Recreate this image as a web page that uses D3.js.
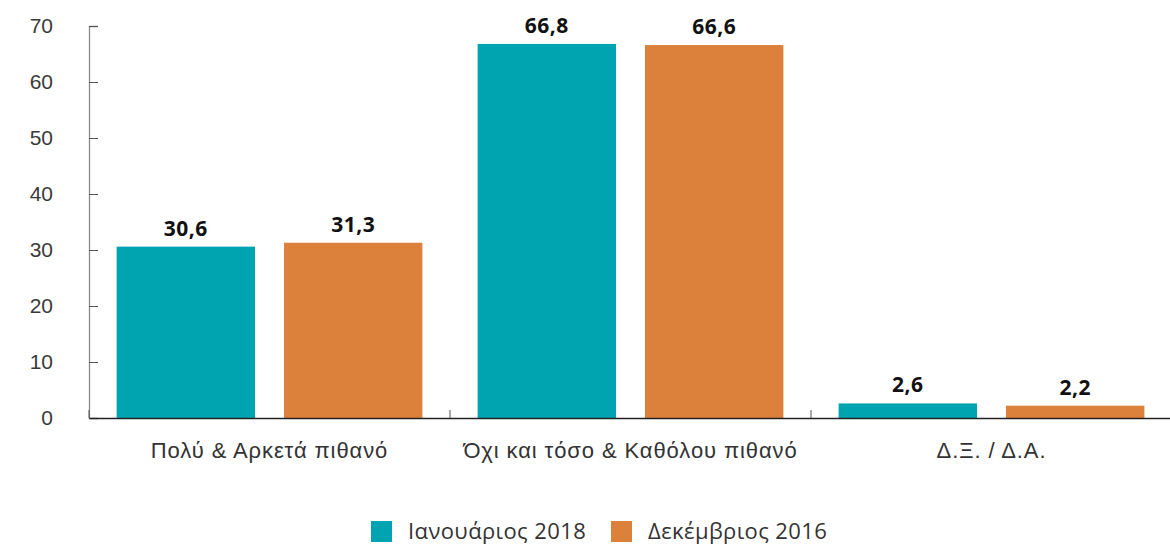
<!DOCTYPE html>
<html>
<head>
<meta charset="utf-8">
<script src="https://cdn.jsdelivr.net/npm/d3@7"></script>
<style>
  html, body { margin: 0; padding: 0; background: #fff; }
  svg { display: block; font-family: "Open Sans", "Noto Sans", sans-serif; }
</style>
</head>
<body>
<svg id="chart" width="1170" height="549"></svg>
<script>
// Survey answers by category, two waves
const categories = ["Πολύ & Αρκετά πιθανό", "Όχι και τόσο & Καθόλου πιθανό", "Δ.Ξ. / Δ.Α."];
const seriesNames = ["Ιανουάριος 2018", "Δεκέμβριος 2016"];
const jan2018 = [30.6, 66.8, 2.6];
const dec2016 = [31.3, 66.6, 2.2];
const yTicks = [0, 10, 20, 30, 40, 50, 60, 70];
const colors = ["#00A4B1", "#DC813B"];

const seriesValues = [jan2018, dec2016];
const svg = d3.select("#chart");

const margin = { left: 89, right: -2, top: 26, bottom: 131 };
const width = 1170 - margin.left - margin.right;
const height = 549 - margin.top - margin.bottom;

const g = svg.append("g").attr("transform", `translate(${margin.left},${margin.top})`);

const x0 = d3.scaleBand().domain(categories).range([0, width]).padding(0);
const x1 = d3.scaleBand().domain(seriesNames).range([0, x0.bandwidth()])
  .paddingInner(0.173).paddingOuter(0.165);
const y = d3.scaleLinear().domain([0, 70]).range([height, 0]);

// y axis: ticks pointing into the plot
const yAxis = g.append("g")
  .call(d3.axisLeft(y).tickValues(yTicks).tickSize(-9).tickPadding(36).tickFormat(d3.format("d")));
yAxis.select(".domain").attr("stroke", "#8a8a8a").attr("stroke-width", 1.3);
yAxis.selectAll(".tick line").attr("stroke", "#555").attr("stroke-width", 1);
yAxis.selectAll(".tick text").attr("fill", "#3a3a3a").attr("font-size", 21).attr("text-anchor", "end");

// bars
const groups = g.selectAll(".cat").data(categories).join("g")
  .attr("class", "cat")
  .attr("transform", d => `translate(${x0(d)},0)`);

groups.each(function(cat, ci) {
  const grp = d3.select(this);
  const data = seriesNames.map((s, si) => ({ s, si, v: seriesValues[si][ci] }));
  grp.selectAll("rect").data(data).join("rect")
    .attr("x", d => x1(d.s))
    .attr("y", d => y(d.v))
    .attr("width", x1.bandwidth())
    .attr("height", d => height - y(d.v))
    .attr("fill", d => colors[d.si]);
  grp.selectAll("text.val").data(data).join("text")
    .attr("class", "val")
    .attr("x", d => x1(d.s) + x1.bandwidth() / 2)
    .attr("y", d => y(d.v) - 11)
    .attr("text-anchor", "middle")
    .attr("font-size", 21)
    .attr("font-weight", "bold")
    .attr("letter-spacing", 0.5)
    .attr("fill", "#111")
    .text(d => d3.format(".1f")(d.v).replace(".", ","));
});

// x axis with separators between categories
const xAxis = g.append("g").attr("transform", `translate(0,${height})`)
  .call(d3.axisBottom(x0).tickSize(0).tickPadding(24));
xAxis.select(".domain").attr("stroke", "#222").attr("stroke-width", 1.3);
xAxis.selectAll(".tick text").attr("fill", "#333").attr("font-size", 22).attr("letter-spacing", 0.9);
xAxis.selectAll(".sep").data(categories.slice(1)).join("line")
  .attr("class", "sep")
  .attr("x1", d => x0(d)).attr("x2", d => x0(d))
  .attr("y1", 0).attr("y2", -8)
  .attr("stroke", "#555").attr("stroke-width", 1);
xAxis.append("line").attr("x1", 0).attr("x2", 0).attr("y1", 0).attr("y2", -8)
  .attr("stroke", "#555").attr("stroke-width", 1);

// legend
const legend = svg.append("g").attr("transform", "translate(371,521)");
const legendOffsets = [0, 240];
const items = legend.selectAll("g").data(seriesNames).join("g")
  .attr("transform", (d, i) => `translate(${legendOffsets[i]},0)`);
items.append("rect").attr("width", 21).attr("height", 21).attr("fill", (d, i) => colors[i]);
items.append("text").attr("x", 37).attr("y", 18)
  .attr("font-size", 22).attr("letter-spacing", 0.4).attr("fill", "#333").text(d => d);
</script>
</body>
</html>
